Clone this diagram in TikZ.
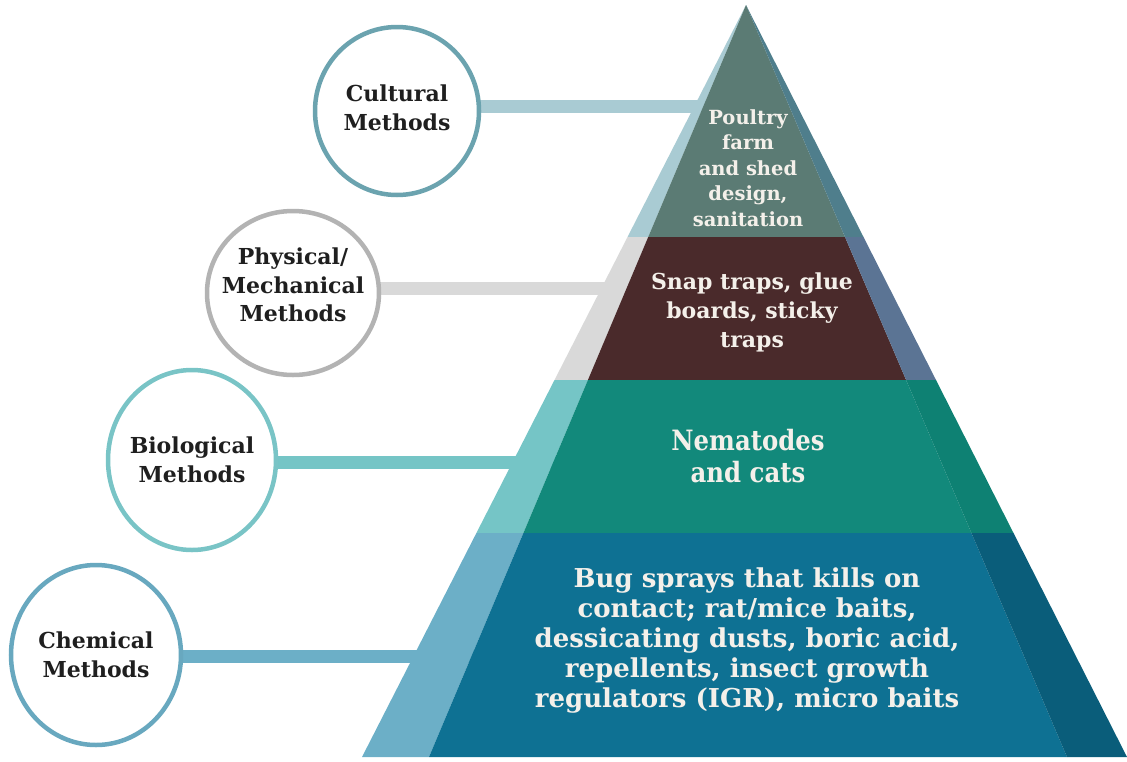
\documentclass[tikz,border=0pt]{standalone}
\usepackage{fontspec}
\setmainfont{DejaVu Serif}
\newfontfamily\slabfont{DejaVu Serif}[FakeStretch=0.87]
\usetikzlibrary{shapes.geometric}
\definecolor{topface}{HTML}{5B7B74}
\definecolor{toplt}{HTML}{A9CBD3}
\definecolor{toprt}{HTML}{4F7E8C}
\definecolor{trapface}{HTML}{4A2A2B}
\definecolor{traplt}{HTML}{D9D9D9}
\definecolor{traprt}{HTML}{5B7494}
\definecolor{nemface}{HTML}{12897B}
\definecolor{nemlt}{HTML}{75C5C6}
\definecolor{nemrt}{HTML}{0E8173}
\definecolor{bugface}{HTML}{0E7193}
\definecolor{buglt}{HTML}{6CAFC7}
\definecolor{bugrt}{HTML}{0A5D7A}
\definecolor{textwhite}{HTML}{F4F0EA}
\definecolor{cultline}{HTML}{6BA3AF}
\definecolor{physline}{HTML}{B3B3B3}
\definecolor{bioline}{HTML}{79C4C6}
\definecolor{chemline}{HTML}{68A8BF}
\tikzset{
  method/.style={ellipse,draw,line width=4.5pt,fill=white,inner sep=0pt},
  mtext/.style={align=center,inner sep=0pt,text=black!88,font=\bfseries\fontsize{22}{28.5}\selectfont},
  bar/.style={line width=13pt},
  tier/.style={align=center,text=textwhite,inner sep=0pt},
}
\begin{document}
\begin{tikzpicture}[x=1pt,y=-1pt]
\useasboundingbox (0,0) rectangle (1127,761);
% pyramid corners
\coordinate (apex) at (746,5);
\coordinate (ol1) at (627.5,237); \coordinate (fl1) at (648.2,237); \coordinate (fr1) at (845,237); \coordinate (or1) at (863.5,237);
\coordinate (ol2) at (554.5,380); \coordinate (fl2) at (587.9,380); \coordinate (fr2) at (906.1,380); \coordinate (or2) at (936,380);
\coordinate (ol3) at (476.4,533); \coordinate (fl3) at (523.4,533); \coordinate (fr3) at (971.4,533); \coordinate (or3) at (1013.5,533);
\coordinate (ol4) at (362,757); \coordinate (fl4) at (429,757); \coordinate (fr4) at (1067,757); \coordinate (or4) at (1127,757);
% methods
\coordinate (cultc) at (397,106);
\coordinate (physc) at (293,288);
\coordinate (bioc) at (192,462);
\coordinate (chemc) at (96,656);
\draw[bar,toplt](cultc)--(cultc-|apex);
\draw[bar,traplt](physc)--(physc-|apex);
\draw[bar,nemlt](bioc)--(bioc-|apex);
\draw[bar,buglt](chemc)--(chemc-|apex);
\node[method,draw=cultline,minimum width=164pt,minimum height=168pt,
  label={[mtext,yshift=3pt]center:Cultural\\Methods}](cult) at (397,111) {};
\node[method,draw=physline,minimum width=172pt,minimum height=164pt,
  label={[mtext,yshift=8pt]center:Physical/\\Mechanical\\Methods}](phys) at (293,293) {};
\node[method,draw=bioline,minimum width=168pt,minimum height=180pt,
  label={[mtext]center:Biological\\Methods}](bio) at (192,460) {};
\node[method,draw=chemline,minimum width=170pt,minimum height=180pt,
  label={[mtext]center:Chemical\\Methods}](chem) at (96,655) {};
% tiers
\fill[toplt](apex)--(ol1)--(fl1)--cycle;
\fill[topface](apex)--(fl1)--(fr1)--cycle;
\fill[toprt](apex)--(fr1)--(or1)--cycle;
\fill[traplt](ol1)--(ol2)--(fl2)--(fl1)--cycle;
\fill[trapface](fl1)--(fl2)--(fr2)--(fr1)--cycle;
\fill[traprt](fr1)--(fr2)--(or2)--(or1)--cycle;
\fill[nemlt](ol2)--(ol3)--(fl3)--(fl2)--cycle;
\fill[nemface](fl2)--(fl3)--(fr3)--(fr2)--cycle;
\fill[nemrt](fr2)--(fr3)--(or3)--(or2)--cycle;
\fill[buglt](ol3)--(ol4)--(fl4)--(fl3)--cycle;
\fill[bugface](fl3)--(fl4)--(fr4)--(fr3)--cycle;
\fill[bugrt](fr3)--(fr4)--(or4)--(or3)--cycle;
\node[tier,font=\bfseries\fontsize{19.5}{25.5}\selectfont](poultry) at (748,168) {Poultry\\farm\\and shed\\design,\\sanitation};
\node[tier,font=\bfseries\fontsize{22}{29}\selectfont](traps) at (752,312) {Snap traps, glue\\boards, sticky\\traps};
\node[tier,font=\slabfont\bfseries\fontsize{28}{32}\selectfont](nema) at (748,456) {Nematodes\\and cats};
\node[tier,font=\bfseries\fontsize{26}{30}\selectfont](bugs) at (747,640) {Bug sprays that kills on\\contact; rat/mice baits,\\dessicating dusts, boric acid,\\repellents, insect growth\\regulators (IGR), micro baits};
\end{tikzpicture}
\end{document}
